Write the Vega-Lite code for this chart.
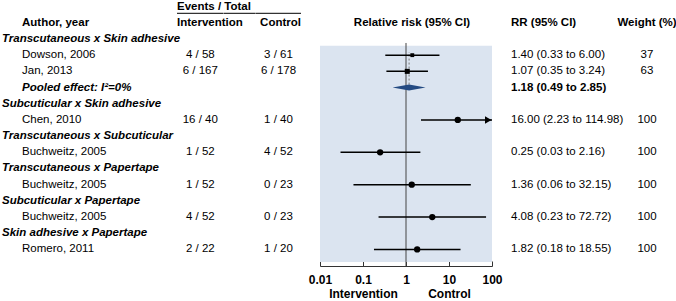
{
  "$schema": "https://vega.github.io/schema/vega-lite/v6.json",
  "padding": {"left": 2, "top": 0, "right": 0, "bottom": 0},
  "spacing": 0,
  "bounds": "flush",
  "config": {
    "font": "Liberation Sans",
    "view": {"stroke": null},
    "text": {"fontSize": 11.5, "color": "#000", "baseline": "middle"},
    "rule": {"color": "#000"}
  },
  "resolve": {"scale": {"x": "independent", "y": "shared"}, "axis": {"x": "independent"}},
  "datasets": {
    "rows": [
      {"id": "g1", "kind": "group", "label": "Transcutaneous x Skin adhesive"},
      {"id": "s1", "kind": "study", "label": "Dowson, 2006", "int": "4 / 58", "ctl": "3 / 61", "rr": 1.40, "lo": 0.33, "hi": 6.00, "rrText": "1.40 (0.33 to 6.00)", "weight": 37},
      {"id": "s2", "kind": "study", "label": "Jan, 2013", "int": "6 / 167", "ctl": "6 / 178", "rr": 1.07, "lo": 0.35, "hi": 3.24, "rrText": "1.07 (0.35 to 3.24)", "weight": 63},
      {"id": "p1", "kind": "pooled", "label": "Pooled effect: I²=0%", "rr": 1.18, "lo": 0.49, "hi": 2.85, "rrText": "1.18 (0.49 to 2.85)"},
      {"id": "g2", "kind": "group", "label": "Subcuticular x Skin adhesive"},
      {"id": "s3", "kind": "study", "label": "Chen, 2010", "int": "16 / 40", "ctl": "1 / 40", "rr": 16.00, "lo": 2.23, "hi": 114.98, "rrText": "16.00 (2.23 to 114.98)", "weight": 100},
      {"id": "g3", "kind": "group", "label": "Transcutaneous x Subcuticular"},
      {"id": "s4", "kind": "study", "label": "Buchweitz, 2005", "int": "1 / 52", "ctl": "4 / 52", "rr": 0.25, "lo": 0.03, "hi": 2.16, "rrText": "0.25 (0.03 to 2.16)", "weight": 100},
      {"id": "g4", "kind": "group", "label": "Transcutaneous x Papertape"},
      {"id": "s5", "kind": "study", "label": "Buchweitz, 2005", "int": "1 / 52", "ctl": "0 / 23", "rr": 1.36, "lo": 0.06, "hi": 32.15, "rrText": "1.36 (0.06 to 32.15)", "weight": 100},
      {"id": "g5", "kind": "group", "label": "Subcuticular x Papertape"},
      {"id": "s6", "kind": "study", "label": "Buchweitz, 2005", "int": "4 / 52", "ctl": "0 / 23", "rr": 4.08, "lo": 0.23, "hi": 72.72, "rrText": "4.08 (0.23 to 72.72)", "weight": 100},
      {"id": "g6", "kind": "group", "label": "Skin adhesive x Papertape"},
      {"id": "s7", "kind": "study", "label": "Romero, 2011", "int": "2 / 22", "ctl": "1 / 20", "rr": 1.82, "lo": 0.18, "hi": 18.55, "rrText": "1.82 (0.18 to 18.55)", "weight": 100}
    ],
    "headers": [
      {"id": "evt", "col": "events", "text": "Events / Total"},
      {"id": "hdr", "col": "author", "text": "Author, year"},
      {"id": "hdr", "col": "int", "text": "Intervention"},
      {"id": "hdr", "col": "ctl", "text": "Control"},
      {"id": "hdr", "col": "forest", "text": "Relative risk (95% CI)"},
      {"id": "hdr", "col": "rr", "text": "RR (95% CI)"},
      {"id": "hdr", "col": "weight", "text": "Weight (%)"}
    ],
    "ref": [{"value": 1}]
  },
  "hconcat": [
    {
      "width": 19.7, "height": 266,
      "data": {"name": "rows"},
      "transform": [{"filter": "datum.kind == 'group'"}],
      "mark": {"type": "text", "align": "left", "fontWeight": "bold", "fontStyle": "italic"},
      "encoding": {
        "x": {"datum": "start", "type": "nominal", "scale": {"type": "point", "padding": 0, "align": 0}, "axis": null},
        "y": {"field": "id", "type": "nominal", "scale": {"type": "point", "domain": ["evt","hdr","g1","s1","s2","p1","g2","s3","g3","s4","g4","s5","g5","s6","g6","s7"], "padding": 0.715, "align": 0.285}, "axis": null},
        "text": {"field": "label"}
      }
    },
    {
      "width": 155, "height": 266,
      "layer": [
        {
          "data": {"name": "rows"},
          "transform": [{"filter": "datum.kind == 'study'"}],
          "mark": {"type": "text", "align": "left"},
          "encoding": {
            "x": {"datum": "start", "type": "nominal", "scale": {"type": "point", "padding": 0, "align": 0}, "axis": null},
            "y": {"field": "id", "type": "nominal", "scale": {"type": "point", "domain": ["evt","hdr","g1","s1","s2","p1","g2","s3","g3","s4","g4","s5","g5","s6","g6","s7"], "padding": 0.715, "align": 0.285}, "axis": null},
            "text": {"field": "label"}
          }
        },
        {
          "data": {"name": "rows"},
          "transform": [{"filter": "datum.kind == 'pooled'"}],
          "mark": {"type": "text", "align": "left", "fontWeight": "bold", "fontStyle": "italic"},
          "encoding": {
            "x": {"datum": "start", "type": "nominal"},
            "y": {"field": "id", "type": "nominal"},
            "text": {"field": "label"}
          }
        },
        {
          "data": {"name": "headers"},
          "transform": [{"filter": "datum.col == 'author'"}],
          "mark": {"type": "text", "align": "left", "fontWeight": "bold"},
          "encoding": {
            "x": {"datum": "start", "type": "nominal"},
            "y": {"field": "id", "type": "nominal"},
            "text": {"field": "text"}
          }
        }
      ]
    },
    {
      "width": 46.6, "height": 266,
      "layer": [
        {
          "data": {"name": "rows"},
          "transform": [{"filter": "datum.kind == 'study'"}],
          "mark": {"type": "text", "align": "center"},
          "encoding": {
            "y": {"field": "id", "type": "nominal", "scale": {"type": "point", "domain": ["evt","hdr","g1","s1","s2","p1","g2","s3","g3","s4","g4","s5","g5","s6","g6","s7"], "padding": 0.715, "align": 0.285}, "axis": null},
            "text": {"field": "int"}
          }
        },
        {
          "data": {"name": "headers"},
          "transform": [{"filter": "datum.col == 'events' || datum.col == 'int'"}],
          "mark": {"type": "text", "align": "left", "fontWeight": "bold"},
          "encoding": {
            "x": {"datum": "start", "type": "nominal", "scale": {"type": "point", "padding": 0, "align": 0}, "axis": null},
            "y": {"field": "id", "type": "nominal"},
            "text": {"field": "text"}
          }
        },
        {
          "data": {"name": "headers"},
          "transform": [{"filter": "datum.col == 'events'"}],
          "mark": {"type": "rule", "yOffset": 6.7, "strokeWidth": 1},
          "encoding": {"y": {"field": "id", "type": "nominal"}}
        }
      ]
    },
    {
      "width": 31.7, "height": 266,
      "data": {"name": "headers"},
      "transform": [{"filter": "datum.col == 'events'"}],
      "mark": {"type": "rule", "yOffset": 6.7, "strokeWidth": 1},
      "encoding": {"y": {"field": "id", "type": "nominal", "scale": {"type": "point", "domain": ["evt","hdr","g1","s1","s2","p1","g2","s3","g3","s4","g4","s5","g5","s6","g6","s7"], "padding": 0.715, "align": 0.285}, "axis": null}}
    },
    {
      "width": 45, "height": 266,
      "layer": [
        {
          "data": {"name": "rows"},
          "transform": [{"filter": "datum.kind == 'study'"}],
          "mark": {"type": "text", "align": "center"},
          "encoding": {
            "y": {"field": "id", "type": "nominal", "scale": {"type": "point", "domain": ["evt","hdr","g1","s1","s2","p1","g2","s3","g3","s4","g4","s5","g5","s6","g6","s7"], "padding": 0.715, "align": 0.285}, "axis": null},
            "text": {"field": "ctl"}
          }
        },
        {
          "data": {"name": "headers"},
          "transform": [{"filter": "datum.col == 'ctl'"}],
          "mark": {"type": "text", "align": "right", "fontWeight": "bold"},
          "encoding": {
            "x": {"datum": "end", "type": "nominal", "scale": {"type": "point", "padding": 0, "align": 1}, "axis": null},
            "y": {"field": "id", "type": "nominal"},
            "text": {"field": "text"}
          }
        },
        {
          "data": {"name": "headers"},
          "transform": [{"filter": "datum.col == 'events'"}],
          "mark": {"type": "rule", "yOffset": 6.7, "strokeWidth": 1},
          "encoding": {"y": {"field": "id", "type": "nominal"}}
        }
      ]
    },
    {
      "width": 18.3, "height": 266,
      "data": {"name": "ref"},
      "mark": {"type": "text"},
      "encoding": {"text": {"value": ""}}
    },
    {
      "width": 172, "height": 266,
      "layer": [
        {
          "data": {"name": "ref"},
          "mark": {"type": "rect", "color": "#dbe4f0", "yOffset": -9.5, "y2Offset": -4},
          "encoding": {
            "x": {"datum": 0.01, "type": "quantitative",
                  "scale": {"type": "log", "domain": [0.01, 100], "clamp": true, "nice": false},
                  "axis": {"values": [0.01, 0.1, 1, 10, 100],
                           "labelExpr": "datum.value < 0.05 ? '0.01' : datum.value < 0.5 ? ['0.1', 'Intervention'] : datum.value < 5 ? '1' : datum.value < 50 ? ['10', 'Control'] : '100'",
                           "title": null, "grid": false, "domainColor": "#333", "tickColor": "#333",
                           "tickSize": -5, "labelPadding": 13, "labelFontWeight": "bold", "labelFontSize": 12,
                           "labelColor": "#000", "labelLineHeight": 14, "labelOverlap": false,
                           "labelFlush": false, "labelBound": false}},
            "x2": {"datum": 100},
            "y": {"datum": "s1", "type": "nominal", "scale": {"type": "point", "domain": ["evt","hdr","g1","s1","s2","p1","g2","s3","g3","s4","g4","s5","g5","s6","g6","s7"], "padding": 0.715, "align": 0.285}, "axis": null},
            "y2": {"value": "height"}
          }
        },
        {
          "data": {"name": "ref"},
          "mark": {"type": "rule", "color": "#444", "strokeWidth": 1, "yOffset": 4},
          "encoding": {
            "x": {"field": "value", "type": "quantitative", "title": null},
            "y": {"datum": "g1", "type": "nominal"},
            "y2": {"value": "height"}
          }
        },
        {
          "data": {"name": "rows"},
          "transform": [{"filter": "datum.kind == 'pooled'"}],
          "mark": {"type": "rule", "color": "#777", "strokeDash": [2, 2], "strokeWidth": 1, "yOffset": -3, "y2Offset": -3},
          "encoding": {
            "x": {"field": "rr", "type": "quantitative", "title": null},
            "y": {"field": "id", "type": "nominal"},
            "y2": {"datum": "s1"}
          }
        },
        {
          "data": {"name": "rows"},
          "transform": [{"filter": "datum.kind == 'study'"}],
          "mark": {"type": "rule", "color": "#000", "strokeWidth": 1.5},
          "encoding": {
            "x": {"field": "lo", "type": "quantitative", "title": null},
            "x2": {"field": "hi"},
            "y": {"field": "id", "type": "nominal"}
          }
        },
        {
          "data": {"name": "rows"},
          "transform": [{"filter": "datum.kind == 'study'"}],
          "mark": {"type": "point", "filled": true, "color": "#000", "opacity": 1},
          "encoding": {
            "x": {"field": "rr", "type": "quantitative", "title": null},
            "y": {"field": "id", "type": "nominal"},
            "size": {"field": "weight", "type": "quantitative", "scale": {"domain": [0, 100], "range": [0, 40]}, "legend": null},
            "shape": {"condition": {"test": "datum.weight < 100", "value": "square"}, "value": "circle"}
          }
        },
        {
          "data": {"name": "rows"},
          "transform": [{"filter": "datum.hi > 100"}],
          "mark": {"type": "point", "shape": "triangle-right", "filled": true, "color": "#000", "opacity": 1, "size": 56, "xOffset": -3.75},
          "encoding": {
            "x": {"field": "hi", "type": "quantitative", "title": null},
            "y": {"field": "id", "type": "nominal"}
          }
        },
        {
          "data": {"name": "rows"},
          "transform": [{"filter": "datum.kind == 'pooled'"}],
          "mark": {"type": "point", "shape": "M-1,0L0,-0.18L1,0L0,0.18Z", "size": 1089, "filled": true, "color": "#234a82", "opacity": 1, "strokeWidth": 0},
          "encoding": {
            "x": {"field": "rr", "type": "quantitative", "title": null},
            "y": {"field": "id", "type": "nominal"}
          }
        },
        {
          "data": {"name": "headers"},
          "transform": [{"filter": "datum.col == 'forest'"}],
          "mark": {"type": "text", "fontWeight": "bold", "dx": 6},
          "encoding": {
            "y": {"field": "id", "type": "nominal"},
            "text": {"field": "text"}
          }
        }
      ]
    },
    {
      "width": 18.7, "height": 266,
      "data": {"name": "ref"},
      "mark": {"type": "text"},
      "encoding": {"text": {"value": ""}}
    },
    {
      "width": 108, "height": 266,
      "layer": [
        {
          "data": {"name": "rows"},
          "transform": [{"filter": "datum.kind == 'study'"}],
          "mark": {"type": "text", "align": "left"},
          "encoding": {
            "x": {"datum": "start", "type": "nominal", "scale": {"type": "point", "padding": 0, "align": 0}, "axis": null},
            "y": {"field": "id", "type": "nominal", "scale": {"type": "point", "domain": ["evt","hdr","g1","s1","s2","p1","g2","s3","g3","s4","g4","s5","g5","s6","g6","s7"], "padding": 0.715, "align": 0.285}, "axis": null},
            "text": {"field": "rrText"}
          }
        },
        {
          "data": {"name": "rows"},
          "transform": [{"filter": "datum.kind == 'pooled'"}],
          "mark": {"type": "text", "align": "left", "fontWeight": "bold"},
          "encoding": {
            "x": {"datum": "start", "type": "nominal"},
            "y": {"field": "id", "type": "nominal"},
            "text": {"field": "rrText"}
          }
        },
        {
          "data": {"name": "headers"},
          "transform": [{"filter": "datum.col == 'rr'"}],
          "mark": {"type": "text", "align": "left", "fontWeight": "bold"},
          "encoding": {
            "x": {"datum": "start", "type": "nominal"},
            "y": {"field": "id", "type": "nominal"},
            "text": {"field": "text"}
          }
        }
      ]
    },
    {
      "width": 56, "height": 266,
      "layer": [
        {
          "data": {"name": "rows"},
          "transform": [{"filter": "datum.kind == 'study'"}],
          "mark": {"type": "text", "align": "center"},
          "encoding": {
            "y": {"field": "id", "type": "nominal", "scale": {"type": "point", "domain": ["evt","hdr","g1","s1","s2","p1","g2","s3","g3","s4","g4","s5","g5","s6","g6","s7"], "padding": 0.715, "align": 0.285}, "axis": null},
            "text": {"field": "weight", "type": "quantitative"}
          }
        },
        {
          "data": {"name": "headers"},
          "transform": [{"filter": "datum.col == 'weight'"}],
          "mark": {"type": "text", "align": "center", "fontWeight": "bold"},
          "encoding": {
            "y": {"field": "id", "type": "nominal"},
            "text": {"field": "text"}
          }
        }
      ]
    }
  ]
}
